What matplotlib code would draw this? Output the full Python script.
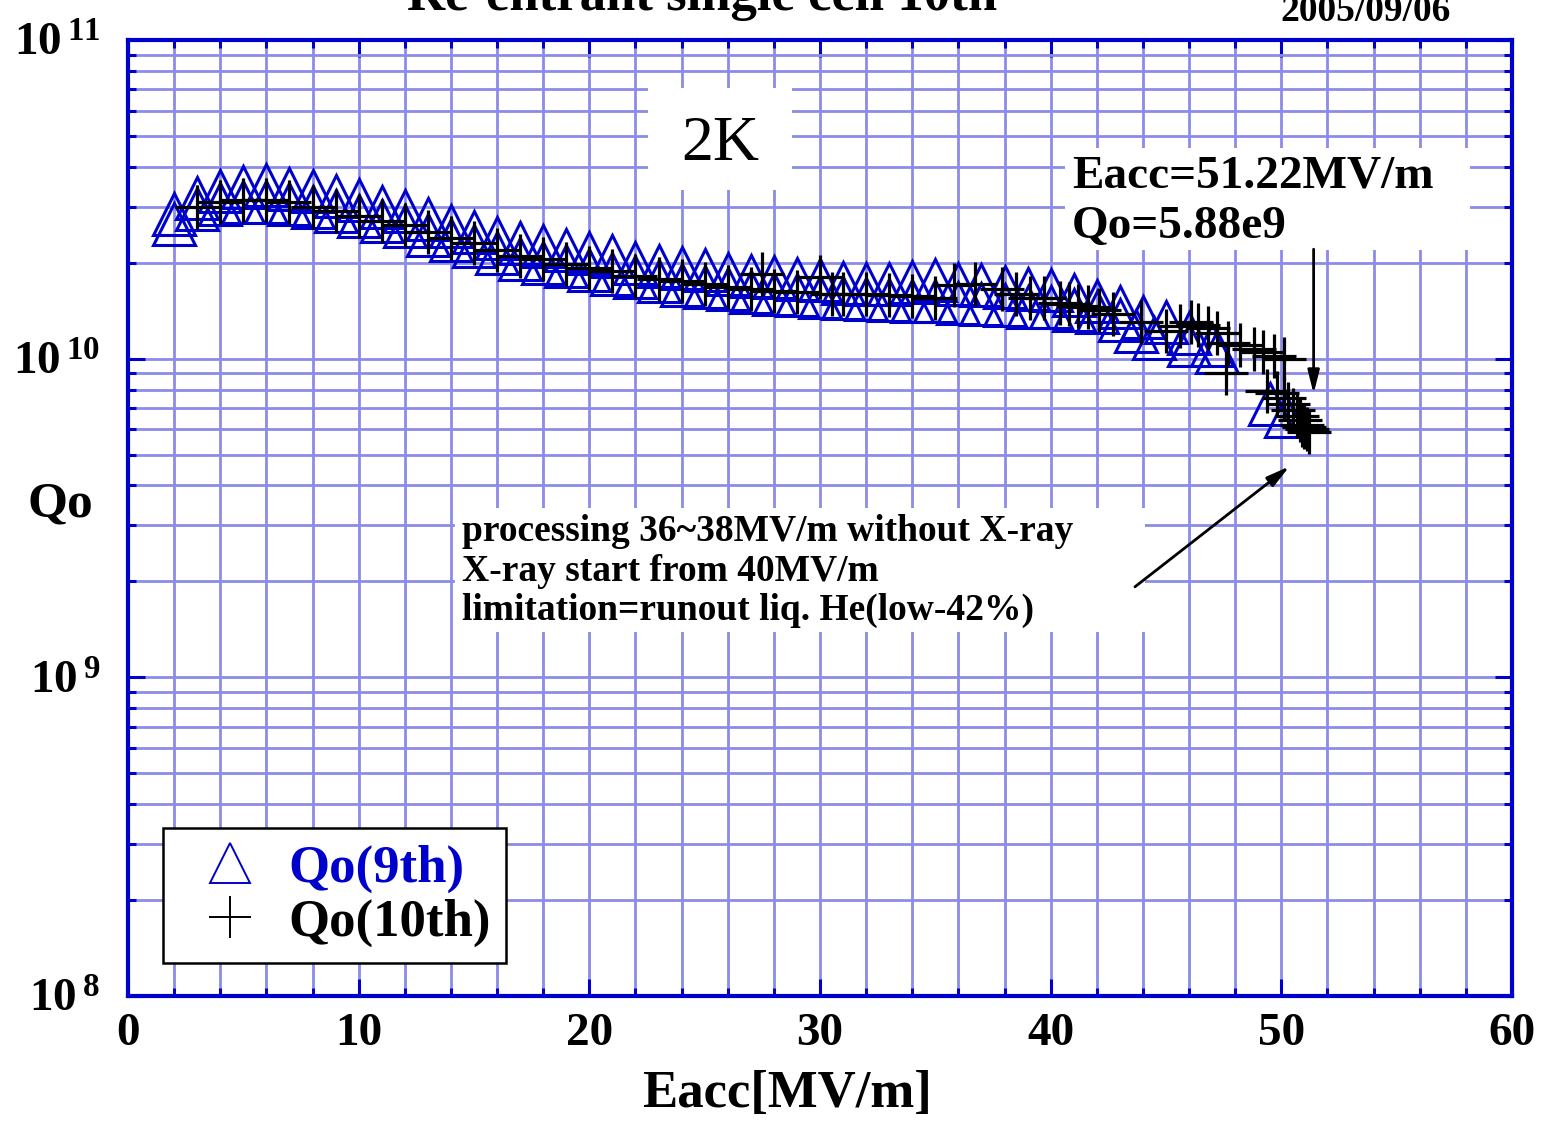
import matplotlib
matplotlib.use("Agg")
import matplotlib.pyplot as plt
from matplotlib.lines import Line2D
from matplotlib.patches import Rectangle
from matplotlib.ticker import MultipleLocator, LogLocator, NullFormatter, FixedLocator

plt.rcParams['font.family'] = ['Liberation Serif', 'DejaVu Serif']
plt.rcParams['font.weight'] = 'bold'
plt.rcParams['axes.labelweight'] = 'bold'
plt.rcParams['mathtext.fontset'] = 'custom'
plt.rcParams['mathtext.rm'] = 'Liberation Serif'
plt.rcParams['mathtext.bf'] = 'Liberation Serif:bold'
plt.rcParams['mathtext.default'] = 'bf'

# ---- datos ----
# Qo(9th): dos lecturas por cada Eacc (superior / inferior)
eacc_9th = [2, 3, 4, 5, 6, 7, 8, 9, 10, 11, 12, 13, 14, 15, 16, 17, 18, 19, 20,
            21, 22, 23, 24, 25, 26, 27, 28, 29, 30, 31, 32, 33, 34, 35, 36, 37,
            38, 39, 40, 41, 42, 43, 44, 45, 46, 47,
            2, 3, 4, 5, 6, 7, 8, 9, 10, 11, 12, 13, 14, 15, 16, 17, 18, 19, 20,
            21, 22, 23, 24, 25, 26, 27, 28, 29, 30, 31, 32, 33, 34, 35, 36, 37,
            38, 39, 40, 41, 42, 43, 43.7, 44.5, 46, 47.2, 49.5, 50.2]
qo_9th = [2.85e10, 3.2e10, 3.35e10, 3.45e10, 3.5e10, 3.4e10, 3.35e10, 3.25e10,
          3.15e10, 3.0e10, 2.9e10, 2.75e10, 2.6e10, 2.5e10, 2.4e10, 2.3e10,
          2.25e10, 2.2e10, 2.15e10, 2.1e10, 2.0e10, 1.95e10, 1.92e10, 1.9e10,
          1.85e10, 1.82e10, 1.8e10, 1.78e10, 1.76e10, 1.73e10, 1.72e10, 1.72e10,
          1.74e10, 1.76e10, 1.72e10, 1.7e10, 1.68e10, 1.66e10, 1.64e10, 1.58e10,
          1.52e10, 1.45e10, 1.35e10, 1.3e10, 1.2e10, 1.1e10,
          2.65e10, 2.95e10, 3.05e10, 3.1e10, 3.1e10, 3.05e10, 3.0e10, 2.9e10,
          2.8e10, 2.7e10, 2.6e10, 2.45e10, 2.35e10, 2.25e10, 2.15e10, 2.05e10,
          2.0e10, 1.95e10, 1.9e10, 1.85e10, 1.8e10, 1.75e10, 1.7e10, 1.68e10,
          1.65e10, 1.62e10, 1.6e10, 1.58e10, 1.56e10, 1.55e10, 1.54e10, 1.53e10,
          1.52e10, 1.52e10, 1.5e10, 1.48e10, 1.47e10, 1.45e10, 1.45e10, 1.42e10,
          1.4e10, 1.32e10, 1.22e10, 1.16e10, 1.1e10, 1.05e10, 7.2e9, 6.6e9]

# Qo(10th)
eacc_10th = [3, 4, 5, 6, 7, 8, 9, 10, 11, 12, 13, 14, 15, 16, 17, 18, 19, 20,
             21, 22, 23, 24, 25, 26, 27, 27.5, 28, 29, 30, 30.5, 31, 32, 33, 34,
             35, 35.8, 36.7, 37.9, 38.5, 39.1, 39.7, 40.4, 40.8, 41.2, 41.6,
             42.1, 42.7, 43.9, 45.0, 45.6, 46.1, 46.4, 46.8, 47.2, 47.6, 47.7,
             48.2, 48.8, 49.2, 49.7, 50.1, 49.4, 49.8, 50.1, 50.3, 50.5, 50.7,
             50.8, 50.9, 51.0, 51.1, 51.22]
qo_10th = [3.0e10, 3.1e10, 3.15e10, 3.15e10, 3.1e10, 3.0e10, 2.9e10, 2.8e10,
           2.7e10, 2.62e10, 2.5e10, 2.4e10, 2.3e10, 2.2e10, 2.1e10, 2.05e10,
           1.98e10, 1.93e10, 1.88e10, 1.82e10, 1.78e10, 1.75e10, 1.72e10,
           1.68e10, 1.65e10, 1.85e10, 1.63e10, 1.62e10, 1.8e10, 1.6e10, 1.6e10,
           1.6e10, 1.58e10, 1.57e10, 1.55e10, 1.7e10, 1.72e10, 1.66e10, 1.6e10,
           1.55e10, 1.55e10, 1.5e10, 1.48e10, 1.46e10, 1.45e10, 1.42e10,
           1.38e10, 1.3e10, 1.22e10, 1.27e10, 1.3e10, 1.28e10, 1.25e10, 1.2e10,
           9.0e9, 1.12e10, 1.1e10, 1.07e10, 1.05e10, 1.02e10, 1.0e10, 7.9e9,
           7.8e9, 7.5e9, 7.2e9, 6.9e9, 6.6e9, 6.4e9, 6.2e9, 6.1e9, 6.0e9, 5.88e9]

xticks = [0, 10, 20, 30, 40, 50, 60]
yticks = [1e8, 1e9, 1e10, 1e11]
ylabels = [r'$10^{\,8}$', r'$10^{\,9}$', r'$10^{\,10}$', r'$10^{\,11}$']

blue = '#0000cc'
gridc = '#8c8ce8'

W, H = 1542, 1123
fig = plt.figure(figsize=(W / 100, H / 100), dpi=100)
ax = fig.add_axes([128 / W, (H - 996) / H, 1384 / W, 956 / H])


def axpos(px, py):
    # pixeles de la imagen -> coordenadas del eje
    return (px - 128) / 1384, (996 - py) / 956


ax.plot(eacc_9th, qo_9th, linestyle='none', marker='^', markersize=30,
        markerfacecolor='none', markeredgecolor=blue, markeredgewidth=2.2,
        zorder=3)
ax.plot(eacc_10th, qo_10th, linestyle='none', marker='+', markersize=31,
        markeredgecolor='black', markeredgewidth=2.3, zorder=4)

ax.set_yscale('log')
ax.set_xlim(0, 60)
ax.set_ylim(1e8, 1e11)

ax.xaxis.set_major_locator(FixedLocator(xticks))
ax.xaxis.set_minor_locator(MultipleLocator(2))
ax.set_xticklabels([str(t) for t in xticks])
ax.yaxis.set_major_locator(FixedLocator(yticks))
ax.yaxis.set_minor_locator(LogLocator(base=10, subs=range(2, 10)))
ax.yaxis.set_minor_formatter(NullFormatter())
ax.set_yticklabels(ylabels)

ax.set_axisbelow(True)
ax.grid(True, which='both', color=gridc, linewidth=2.0)
for s in ax.spines.values():
    s.set_color(blue)
    s.set_linewidth(3)
ax.tick_params(which='both', direction='in', top=True, right=True,
               color=blue, width=2.2)
ax.tick_params(which='major', length=12)
ax.tick_params(which='minor', length=6)
ax.tick_params(axis='x', labelsize=34, pad=12)
ax.tick_params(axis='y', labelsize=34, pad=20)

ax.set_xlabel('Eacc[MV/m]', fontsize=38, labelpad=11)
ax.xaxis.label.set_x((787 - 128) / 1384)
ax.text(*axpos(60, 505), 'Qo', transform=ax.transAxes, fontsize=37,
        ha='center', va='center')

# cajas blancas de las anotaciones
for (x0, y0, x1, y1) in [(648, 88, 792, 190), (1065, 148, 1470, 250),
                         (455, 508, 1145, 632)]:
    a0, b0 = axpos(x0, y1)
    a1, b1 = axpos(x1, y0)
    ax.add_patch(Rectangle((a0, b0), a1 - a0, b1 - b0, transform=ax.transAxes,
                           facecolor='white', edgecolor='none', zorder=2))

ax.text(*axpos(720, 145), '2K', transform=ax.transAxes, fontsize=46,
        fontweight='normal', ha='center', va='center', zorder=5)
ax.text(*axpos(1072, 188), 'Eacc=51.22MV/m', transform=ax.transAxes,
        fontsize=34, va='baseline', zorder=5)
ax.text(*axpos(1072, 238), 'Qo=5.88e9', transform=ax.transAxes,
        fontsize=34, va='baseline', zorder=5)
for line, py in [('processing 36~38MV/m without X-ray', 541),
                 ('X-ray start from 40MV/m', 581),
                 ('limitation=runout liq. He(low-42%)', 620)]:
    ax.text(*axpos(462, py), line, transform=ax.transAxes, fontsize=27,
            va='baseline', zorder=5)

# flechas
ax.annotate('', xy=(51.4, 7.6e9), xytext=(51.4, 2.25e10),
            arrowprops=dict(arrowstyle='-|>,head_length=1.4,head_width=0.35',
                            color='black', lw=2), zorder=6)
ax.annotate('', xy=(50.45, 4.65e9), xytext=(43.56, 1.9e9),
            arrowprops=dict(arrowstyle='-|>,head_length=1.4,head_width=0.35',
                            color='black', lw=2), zorder=6)

# leyenda
handles = [Line2D([], [], linestyle='none', marker='^', markersize=29,
                  markerfacecolor='none', markeredgecolor=blue,
                  markeredgewidth=1.4),
           Line2D([], [], linestyle='none', marker='+', markersize=30,
                  markeredgecolor='black', markeredgewidth=1.4)]
leg = ax.legend(handles, ['Qo(9th)', 'Qo(10th)'], loc='lower left',
                bbox_to_anchor=axpos(163, 963), fontsize=38, frameon=True,
                fancybox=False, edgecolor='black', framealpha=1,
                borderaxespad=0, borderpad=0.3, handletextpad=0.15,
                labelspacing=0.12, handlelength=1.92)
leg.get_frame().set_linewidth(1.8)
leg.set_zorder(7)
for t, c in zip(leg.get_texts(), [blue, 'black']):
    t.set_color(c)

fig.text(702 / W, 1 - 10 / H, 'Re-entrant single cell 10th', fontsize=38,
         ha='center', va='baseline')
fig.text(1366 / W, 1 - 21 / H, '2005/09/06', fontsize=27, ha='center',
         va='baseline')

fig.savefig('out.png', dpi=100)
